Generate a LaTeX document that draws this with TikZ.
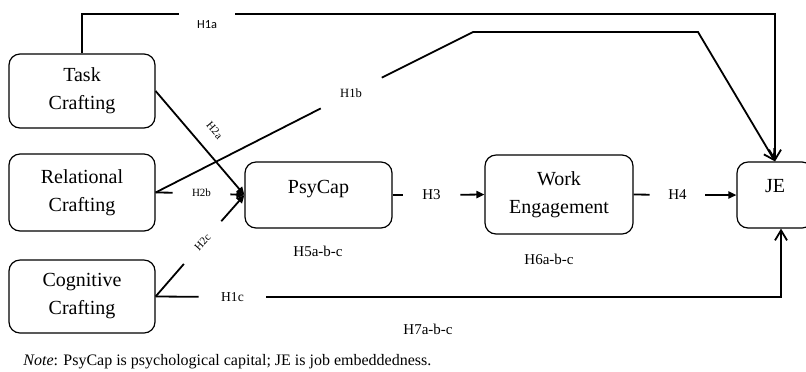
\documentclass[tikz,border=0pt]{standalone}
\usepackage{fontspec}
\setmainfont{Liberation Serif}
\newfontfamily\calfont{Carlito}
\usetikzlibrary{arrows.meta}

\begin{document}
\begin{tikzpicture}[x=0.5pt, y=-0.5pt,
  hbox/.style={draw, line width=0.6pt, rounded corners=5.5pt, align=center,
    inner sep=0pt, font=\fontsize{10}{14}\selectfont},
  gapnode/.style={inner sep=0pt, minimum height=2pt},
  hyp/.style={font=\fontsize{7.5}{9}\selectfont},
  hsmall/.style={font=\fontsize{5.5}{7}\selectfont},
  hlink/.style={line width=0.9pt},
  tiparrow/.style={hlink, -{Triangle[length=4pt, width=3.6pt]}},
  jearrow/.style={hlink, -{Straight Barb[length=5pt, width=6pt]}}]

\useasboundingbox (0,0) rectangle (806,371);

% Job crafting boxes
\node[hbox, minimum width=73pt, minimum height=37pt] (task) at (82,91) {Task\\Crafting};
\node[hbox, minimum width=73pt, minimum height=38.5pt] (rel) at (82,192.5) {Relational\\Crafting};
\node[hbox, minimum width=73pt, minimum height=36.5pt] (cog) at (82,296.5) {Cognitive\\Crafting};

% Mediators and outcome
\node[hbox, minimum width=73.5pt, minimum height=33pt, text depth=8.5pt] (psy) at (318.5,195) {PsyCap};
\node[hbox, minimum width=74pt, minimum height=39.5pt] (we) at (559,194.5) {Work\\Engagement};
\node[hbox, minimum width=38pt, minimum height=33pt, text depth=9pt] (je) at (775,195) {JE};

% Label gaps on the paths
\node[gapnode, minimum width=28pt, label={[font=\calfont\fontsize{6.2}{7}\selectfont, label distance=-1.5pt]below:H1a}] (l1a) at (207,14) {};
\node[inner sep=0pt, minimum width=31pt, minimum height=15pt, font=\fontsize{6.3}{7}\selectfont] (l1b) at (351,93) {H1b};
\node[gapnode, minimum width=33.5pt, font=\fontsize{6.8}{8}\selectfont] (l1c) at (232.5,297) {H1c};
\node[gapnode, minimum width=28.5pt, hsmall] (l2b) at (201.5,193) {H2b};
\node[gapnode, minimum width=28pt, rotate=48, hsmall] (l2c) at (202.5,242.5) {H2c};
\node[gapnode, minimum width=28.5pt, hyp] (l3) at (431.5,195) {H3};
\node[gapnode, minimum width=27.5pt, hyp] (l4) at (677.5,195) {H4};
\coordinate (b1) at (473,32);
\coordinate (b2) at (698,32);

% Direct effects on JE
\draw[hlink] (task.north) |- (l1a.west);
\draw[jearrow] (l1a.east) -| (je.north);
\draw[hlink] (rel.east) -- (l1b);
\draw[jearrow] (l1b) -- (b1) -- (b2) -- (je.north);
\draw[hlink] (cog.east) -- (l1c);
\draw[jearrow] (l1c) -| ([xshift=3pt]je.south);

% Effects on PsyCap
\draw[tiparrow] (task.east) -- node[sloped, above=4pt, hsmall] {H2a} (psy.west);
\draw[hlink] (rel.east) -- (l2b);
\draw[tiparrow] (l2b) -- (psy.west);
\draw[hlink] (cog.east) -- (l2c);
\draw[tiparrow] (l2c) -- (psy.west);

% Chain
\draw[hlink] (psy.east) -- (l3);
\draw[tiparrow] (l3) -- (we.west);
\draw[hlink] (we.east) -- (l4);
\draw[tiparrow] (l4) -- (je.west);

% Mediation hypotheses
\node[hyp] (h5) at (318,251) {H5a-b-c};
\node[hyp] (h6) at (549,259) {H6a-b-c};
\node[hyp] (h7) at (428,329) {H7a-b-c};

\node[anchor=west, inner sep=0pt, font=\fontsize{8}{10}\selectfont] (note) at (23,362)
  {\textit{Note}: PsyCap is psychological capital; JE is job embeddedness.};
\end{tikzpicture}
\end{document}
